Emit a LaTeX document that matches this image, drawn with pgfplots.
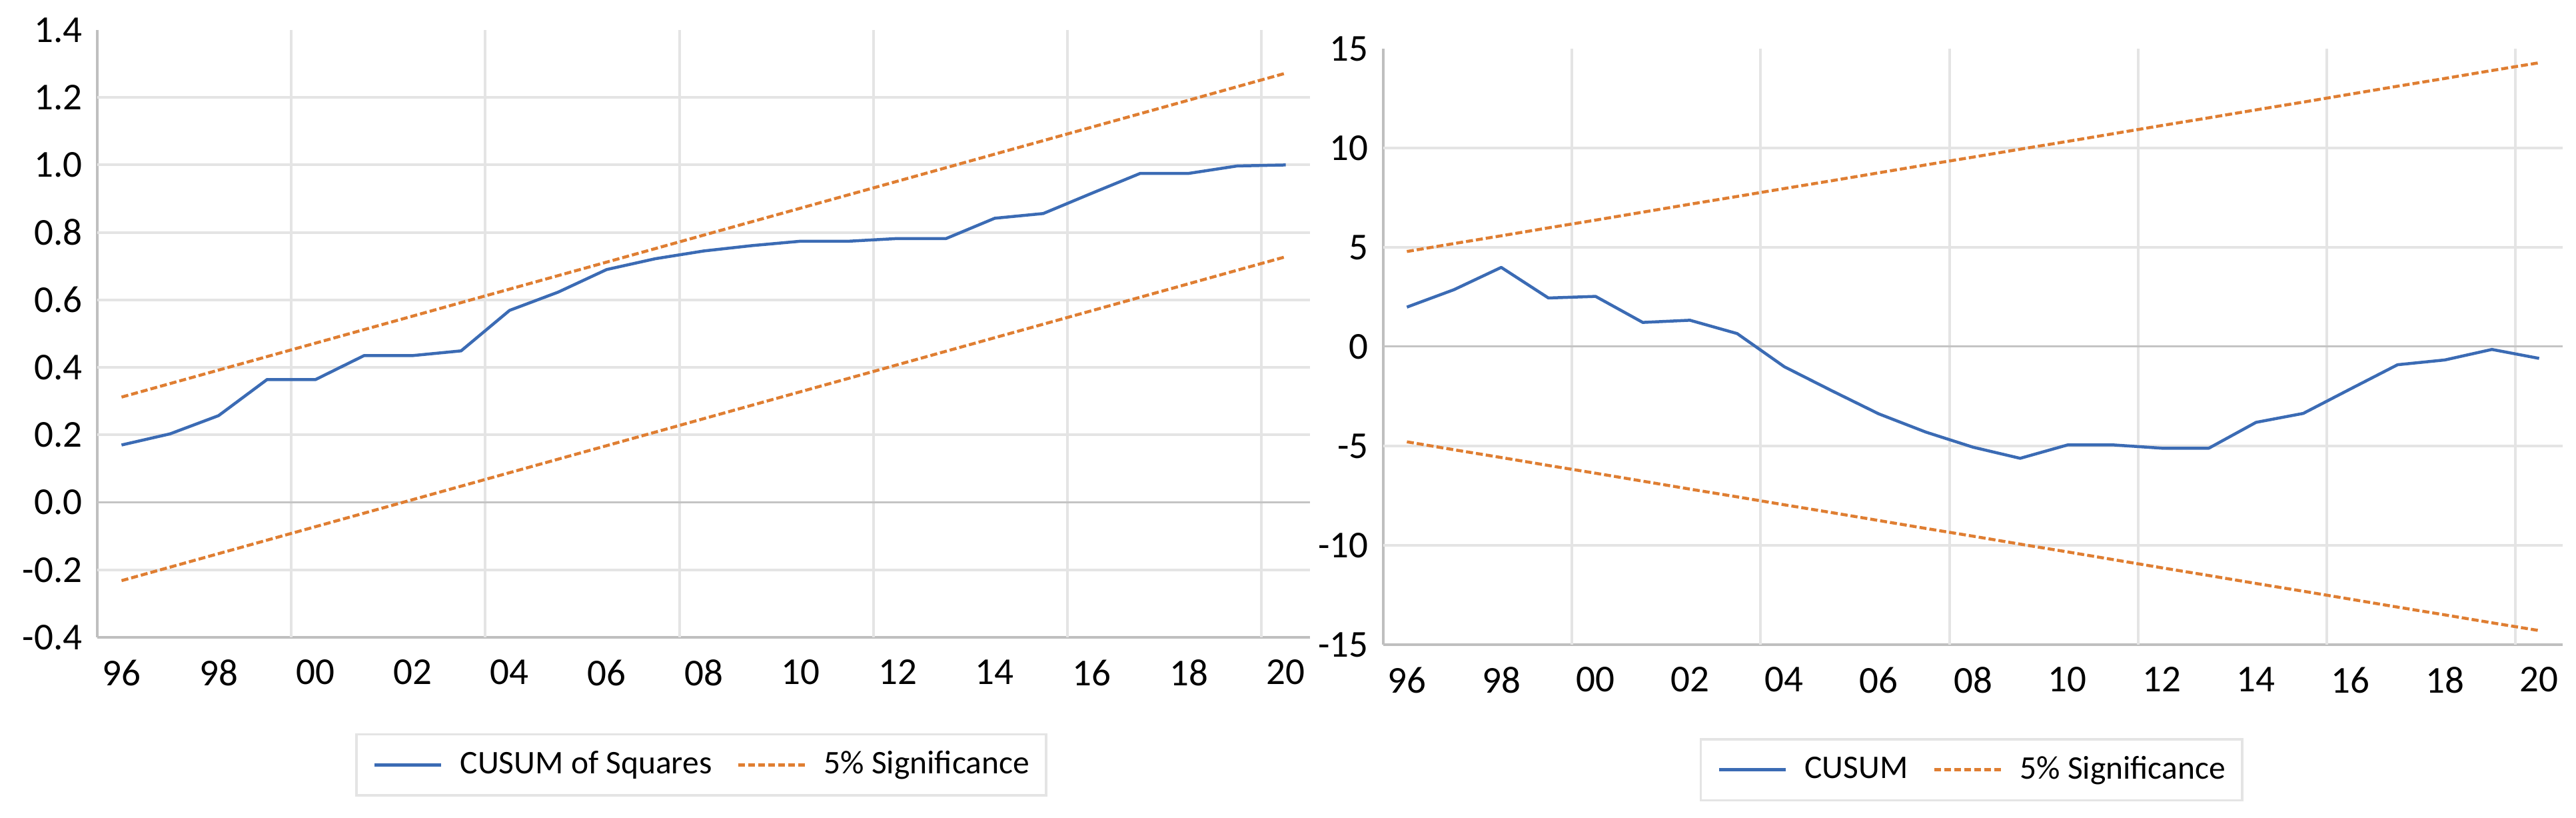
\documentclass[border=0pt]{standalone}
\usepackage{fontspec}
\setmainfont{Carlito}
\usepackage{pgfplots}
\pgfplotsset{compat=1.18}
\usepackage{pgfplotstable}

\definecolor{cblue}{HTML}{3B6BB4}
\definecolor{corange}{HTML}{DF7E32}
\definecolor{gridc}{HTML}{E4E4E4}
\definecolor{axisc}{HTML}{BFBFBF}
\definecolor{zeroc}{HTML}{C4C4C4}

% year, statistic, upper and lower 5% bounds
\pgfplotstableread{
year  cusumsq upper  lower
1996  0.170   0.312  -0.232
1997  0.203   0.352  -0.192
1998  0.257   0.392  -0.152
1999  0.364   0.432  -0.112
2000  0.364   0.472  -0.072
2001  0.435   0.512  -0.032
2002  0.435   0.552   0.008
2003  0.449   0.592   0.048
2004  0.569   0.632   0.088
2005  0.623   0.672   0.128
2006  0.690   0.712   0.168
2007  0.722   0.752   0.208
2008  0.745   0.792   0.248
2009  0.761   0.832   0.288
2010  0.774   0.872   0.328
2011  0.774   0.912   0.368
2012  0.782   0.952   0.408
2013  0.782   0.992   0.448
2014  0.842   1.032   0.488
2015  0.856   1.072   0.528
2016  0.916   1.112   0.568
2017  0.975   1.152   0.608
2018  0.975   1.192   0.648
2019  0.997   1.232   0.688
2020  1.000   1.272   0.728
}\sqdata

\pgfplotstableread{
year  cusum  upper   lower
1996   1.99   4.79   -4.79
1997   2.87   5.19   -5.19
1998   3.99   5.58   -5.58
1999   2.45   5.98   -5.98
2000   2.53   6.37   -6.37
2001   1.22   6.77   -6.77
2002   1.33   7.17   -7.17
2003   0.66   7.56   -7.56
2004  -1.01   7.96   -7.96
2005  -2.21   8.35   -8.35
2006  -3.38   8.75   -8.75
2007  -4.30   9.15   -9.15
2008  -5.06   9.54   -9.54
2009  -5.62   9.94   -9.94
2010  -4.95  10.33  -10.33
2011  -4.95  10.73  -10.73
2012  -5.11  11.13  -11.13
2013  -5.11  11.52  -11.52
2014  -3.81  11.92  -11.92
2015  -3.36  12.31  -12.31
2016  -2.13  12.71  -12.71
2017  -0.91  13.11  -13.11
2018  -0.67  13.50  -13.50
2019  -0.14  13.90  -13.90
2020  -0.59  14.29  -14.29
}\cudata

\pgfplotsset{
  cusumstyle/.style={
    scale only axis,
    xmin=1995.5, xmax=2020.5,
    axis x line*=bottom, axis y line*=left,
    axis line style={-, draw=axisc, line width=0.8pt},
    major tick length=0pt,
    tick style={draw=none},
    xtick={1996,1998,...,2020},
    xticklabels={96,98,00,02,04,06,08,10,12,14,16,18,20},
    extra x ticks={1999.5,2003.5,...,2019.5},
    extra x tick labels={},
    extra x tick style={grid=major},
    grid style={draw=gridc, line width=0.8pt},
    ticklabel style={font=\fontsize{11.4}{12}\selectfont, inner sep=0pt},
    xticklabel style={anchor=north, yshift=-6.6pt},
    yticklabel style={anchor=east, xshift=-4.3pt},
    legend columns=2,
    legend image code/.code={\draw[##1] (0pt,0pt) -- (20pt,0pt);},
    legend style={
      at={(0.498,-0.21)}, anchor=center,
      draw=gridc, line width=0.7pt,
      inner xsep=5pt, inner ysep=5pt,
      nodes={inner sep=0pt, anchor=west},
      font=\fontsize{9.9}{11}\selectfont,
      /tikz/every odd column/.append style={column sep=5.3pt},
      /tikz/every even column/.append style={column sep=7.4pt},
    },
  },
  bluel/.style={draw=cblue, line width=0.9pt, line join=round, mark=none},
  orangel/.style={draw=corange, line width=0.9pt, dash pattern=on 2.1pt off 0.9pt, line join=round, mark=none},
}

\begin{document}
\begin{tikzpicture}
\path[use as bounding box] (0,0) rectangle (773.2pt,245.4pt);

\begin{axis}[
  cusumstyle,
  at={(29.2pt,54.2pt)}, anchor=south west,
  width=364pt, height=182.2pt,
  ymin=-0.4, ymax=1.4,
  ytick={-0.4,-0.2,0,0.2,0.4,0.6,0.8,1.0,1.2,1.4},
  yticklabels={-0.4,-0.2,0.0,0.2,0.4,0.6,0.8,1.0,1.2,1.4},
  extra y ticks={-0.2,0.2,0.4,0.6,0.8,1.0,1.2},
  extra y tick labels={},
  extra y tick style={grid=major},
]
\draw[zeroc, line width=0.6pt] (axis cs:1995.5,0) -- (axis cs:2020.5,0);
\addplot[bluel] table[x=year, y=cusumsq] {\sqdata};
\addlegendentry{CUSUM of Squares}
\addplot[orangel] table[x=year, y=upper] {\sqdata};
\addlegendentry{5\% Significance}
\addplot[orangel, forget plot] table[x=year, y=lower] {\sqdata};
\end{axis}

\begin{axis}[
  cusumstyle,
  at={(415.2pt,52pt)}, anchor=south west,
  width=354pt, height=178.8pt,
  ymin=-15, ymax=15,
  ytick={-15,-10,-5,0,5,10,15},
  yticklabels={-15,-10,-5,0,5,10,15},
  extra y ticks={-10,-5,5,10},
  extra y tick labels={},
  extra y tick style={grid=major},
  legend style={at={(0.4986,-0.21)}},
]
\draw[zeroc, line width=0.6pt] (axis cs:1995.5,0) -- (axis cs:2020.5,0);
\addplot[bluel] table[x=year, y=cusum] {\cudata};
\addlegendentry{CUSUM}
\addplot[orangel] table[x=year, y=upper] {\cudata};
\addlegendentry{5\% Significance}
\addplot[orangel, forget plot] table[x=year, y=lower] {\cudata};
\end{axis}
\end{tikzpicture}
\end{document}
